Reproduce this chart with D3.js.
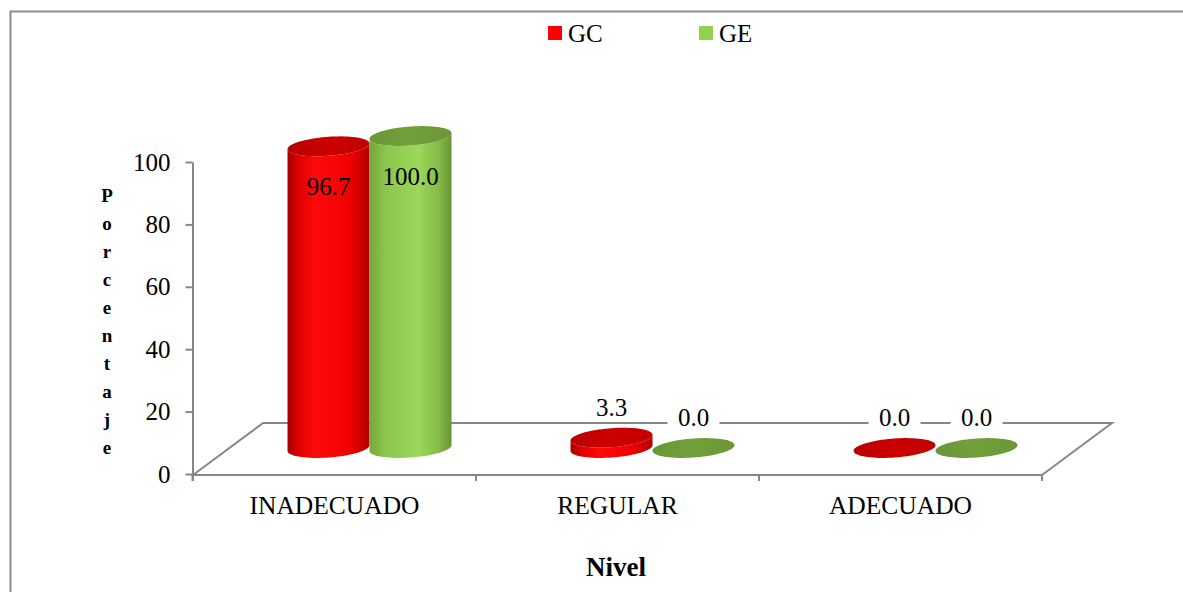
<!DOCTYPE html>
<html>
<head>
<meta charset="utf-8">
<script src="https://cdn.jsdelivr.net/npm/d3@7/dist/d3.min.js"></script>
<style>
  html, body { margin: 0; padding: 0; background: #fff; }
  svg { display: block; }
  text { font-family: "Liberation Serif", "Times New Roman", serif; fill: #000; }
</style>
</head>
<body>
<svg id="chart" width="1183" height="592"></svg>
<script>
// Niveles y porcentajes por grupo
const categories = ["INADECUADO", "REGULAR", "ADECUADO"];
const seriesNames = ["GC", "GE"];
const gcValues = [96.7, 3.3, 0.0];
const geValues = [100.0, 0.0, 0.0];
const yTicks = [0, 20, 40, 60, 80, 100];
const yTitle = "Porcentaje";
const xTitle = "Nivel";

const svg = d3.select("#chart");

// Plot geometry: front floor edge and perspective depth
const floorLeft = 193, floorRight = 1042, floorFront = 475;
const depthX = 70, depthY = -52;
const halfDX = depthX / 2, halfDY = depthY / 2;

const y = d3.scaleLinear().domain([0, 100]).range([474, 162]);
const x = d3.scaleBand().domain(categories).range([floorLeft, floorRight]).padding(0);
const sub = d3.scaleBand().domain(seriesNames).range([-82, 82]).padding(0);

const axisGray = "#878787";

// Outer frame
svg.append("rect")
  .attr("x", 10.5).attr("y", 11.5)
  .attr("width", 1300).attr("height", 700)
  .attr("fill", "none").attr("stroke", "#8c8c8c").attr("stroke-width", 2);

// Gradients for cylinder bodies
const defs = svg.append("defs");
function grad(id, stops) {
  const g = defs.append("linearGradient").attr("id", id)
    .attr("x1", "0%").attr("x2", "100%").attr("y1", "0%").attr("y2", "0%");
  stops.forEach(s => g.append("stop").attr("offset", s[0]).attr("stop-color", s[1]));
}
grad("gcBody", [["0", "#a30000"], ["0.12", "#dc0000"], ["0.35", "#ff0a0a"], ["0.75", "#f20000"], ["1", "#b20000"]]);
grad("geBody", [["0", "#76a63c"], ["0.2", "#8cc64c"], ["0.6", "#9ad85a"], ["0.85", "#84ba46"], ["1", "#689434"]]);
grad("gcTop", [["0", "#b80000"], ["0.5", "#cc0000"], ["1", "#c00000"]]);
grad("geTop", [["0", "#6a9636"], ["0.5", "#739f3c"], ["1", "#6a9636"]]);
const fills = {
  GC: { body: "url(#gcBody)", top: "url(#gcTop)" },
  GE: { body: "url(#geBody)", top: "url(#geTop)" }
};

// Floor (parallelogram)
const floor = svg.append("g").attr("fill", "none").attr("stroke", axisGray).attr("stroke-width", 2);
floor.append("path")
  .attr("d", `M${floorLeft},${floorFront} L${floorLeft + depthX},${floorFront + depthY} L${floorRight + depthX},${floorFront + depthY} L${floorRight},${floorFront}`);
floor.append("line")
  .attr("x1", floorLeft).attr("x2", floorRight)
  .attr("y1", floorFront).attr("y2", floorFront);
// Category boundary ticks on the front edge
const bounds = categories.map(c => x(c)).concat([floorRight]);
floor.selectAll("line.xt").data(bounds).join("line").attr("class", "xt")
  .attr("x1", d => d).attr("x2", d => d)
  .attr("y1", floorFront).attr("y2", floorFront + 6);

// Value axis
const yAxis = d3.axisLeft(y).tickValues(yTicks).tickSize(7).tickSizeOuter(0).tickPadding(15);
const gy = svg.append("g").attr("transform", `translate(${floorLeft - 0.5},0)`).call(yAxis);
gy.select(".domain").attr("stroke", axisGray).attr("stroke-width", 2);
gy.selectAll(".tick line").attr("stroke", axisGray).attr("stroke-width", 2);
gy.selectAll(".tick text")
  .attr("font-size", 25).attr("font-family", "Liberation Serif, serif").attr("fill", "#000");
svg.append("line")
  .attr("x1", floorLeft - 0.5).attr("x2", floorLeft - 0.5)
  .attr("y1", y(0)).attr("y2", floorFront + 6)
  .attr("stroke", axisGray).attr("stroke-width", 2);

// Cylinder drawing
const rx = 41, ry = 9.5, tilt = 0.07;
function ellipsePts(cx, cy, a0, a1, n) {
  const pts = [];
  for (let i = 0; i <= n; i++) {
    const t = a0 + (a1 - a0) * i / n;
    pts.push([cx + rx * Math.cos(t), cy + ry * Math.sin(t) - rx * Math.cos(t) * tilt]);
  }
  return pts;
}
const line = d3.line();

const rows = categories.map((c, i) => ({ cat: c, vals: [
  { name: "GC", v: gcValues[i] },
  { name: "GE", v: geValues[i] }
]}));

const bars = svg.append("g");
const labels = [];
rows.forEach(r => {
  const gc = x(r.cat) + x.bandwidth() / 2 + halfDX;
  r.vals.forEach(d => {
    const cx = gc + sub(d.name) + sub.bandwidth() / 2;
    const yb = y(0) + halfDY;
    const yt = y(d.v) + halfDY;
    // side wall with front half of the base
    const body = [[cx - rx, yt + rx * tilt]]
      .concat(ellipsePts(cx, yb, Math.PI, 0, 40))
      .concat([[cx + rx, yt - rx * tilt]])
      .concat(ellipsePts(cx, yt, 0, Math.PI, 40));
    bars.append("path").attr("d", line(body) + "Z").attr("fill", fills[d.name].body);
    // top cap
    bars.append("path").attr("d", line(ellipsePts(cx, yt, 0, 2 * Math.PI, 80)) + "Z")
      .attr("fill", fills[d.name].top);
    labels.push({ cx, yt, v: d.v });
  });
});

// Data labels
const lab = svg.append("g");
labels.forEach(l => {
  const inside = l.v > 50;
  const ly = inside ? l.yt + 40 : l.yt - 31;
  const txt = d3.format(".1f")(l.v);
  if (!inside) {
    const w = txt.length * 12 + 16;
    lab.append("rect").attr("x", l.cx - w / 2).attr("y", ly - 14)
      .attr("width", w).attr("height", 26).attr("fill", "#fff");
  }
  lab.append("text").attr("x", l.cx).attr("y", ly + 9)
    .attr("text-anchor", "middle").attr("font-size", 25).text(txt);
});

// Category labels
svg.append("g").selectAll("text").data(categories).join("text")
  .attr("x", d => x(d) + x.bandwidth() / 2)
  .attr("y", 514)
  .attr("text-anchor", "middle").attr("font-size", 25.5)
  .text(d => d);

// Axis titles
svg.append("text").attr("x", 616).attr("y", 576)
  .attr("text-anchor", "middle").attr("font-size", 27).attr("font-weight", "bold")
  .text(xTitle);
svg.append("g").selectAll("text").data(yTitle.split("")).join("text")
  .attr("x", 107).attr("y", (d, i) => 202 + i * 28)
  .attr("text-anchor", "middle").attr("font-size", 19).attr("font-weight", "bold")
  .text(d => d);

// Legend
const legendItems = [
  { name: "GC", color: "#ff0000", x: 548 },
  { name: "GE", color: "#92d050", x: 699 }
];
const lg = svg.append("g");
lg.selectAll("rect").data(legendItems).join("rect")
  .attr("x", d => d.x).attr("y", 26).attr("width", 14).attr("height", 14)
  .attr("fill", d => d.color);
lg.selectAll("text").data(legendItems).join("text")
  .attr("x", d => d.x + 20).attr("y", 42).attr("font-size", 25)
  .text(d => d.name);
</script>
</body>
</html>
